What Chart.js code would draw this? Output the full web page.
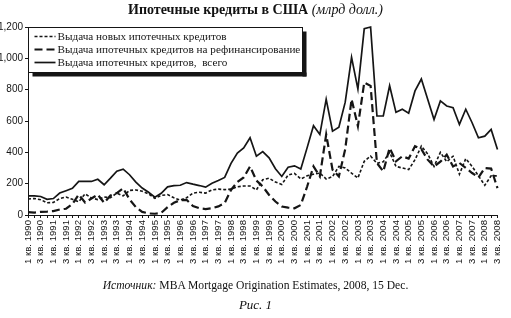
<!DOCTYPE html>
<html>
<head>
<meta charset="utf-8">
<script src="https://cdn.jsdelivr.net/npm/chart.js@4"></script>
<style>
  body { margin: 0; background: #fff; }
  #wrap { position: relative; width: 511px; height: 318px; overflow: hidden; }
  #chart { position: absolute; left: 0; top: 0; }
  .txt { position: absolute; left: 0; width: 511px; text-align: center; font-family: "Liberation Serif", "DejaVu Serif", serif; color: #111; }
  #title { top: 2px; font-size: 14px; font-weight: bold; }
  #title i { font-weight: normal; }
  #source { top: 279px; left: 0px; font-size: 11.6px; }
  #caption { top: 297px; font-size: 13px; font-style: italic; }
</style>
</head>
<body>
<div id="wrap">
  <canvas id="chart" width="511" height="318"></canvas>
  <div class="txt" id="title">Ипотечные кредиты в США <i>(млрд долл.)</i></div>
  <div class="txt" id="source"><i>Источник:</i> MBA Mortgage Origination Estimates, 2008, 15 Dec.</div>
  <div class="txt" id="caption">Рис. 1</div>
</div>
<script>
// quarters 1990 Q1 .. 2008 Q3
const years = [1990, 1991, 1992, 1993, 1994, 1995, 1996, 1997, 1998, 1999,
  2000, 2001, 2002, 2003, 2004, 2005, 2006, 2007, 2008];
const quarterNames = ['1 кв.', '2 кв.', '3 кв.', '4 кв.'];
const shownQuarters = ['1 кв.', '3 кв.'];

const labels = [];
years.forEach(y => quarterNames.forEach(q => labels.push(q + ' ' + y)));
labels.length = 75; // last quarter in data: 3 кв. 2008

// billions of dollars
const newLoans = [102,105,98,78,80,105,115,100,85,135,109,98,115,110,140,122,
  157,160,152,135,106,125,130,110,95,110,140,145,140,160,165,162,
  165,180,185,185,160,225,235,210,195,255,265,230,250,260,268,230,
  245,310,300,267,236,343,376,330,340,400,310,300,290,353,440,390,
  310,400,340,375,260,360,310,250,190,250,250];

const refiLoans = [18,15,20,22,25,35,40,70,130,80,105,130,78,125,140,171,
  100,50,20,10,8,14,50,78,95,97,57,43,38,43,55,76,
  160,210,240,310,220,182,128,86,54,47,43,64,182,310,246,514,
  289,246,420,739,567,846,824,332,278,428,343,375,360,439,420,353,
  310,340,385,310,332,300,268,240,300,296,171];

const totalLoans = [122,122,118,100,105,140,155,170,215,215,214,228,193,235,280,293,
  257,210,172,145,114,139,180,188,190,207,197,188,178,203,220,240,
  330,396,428,493,375,405,365,295,246,305,314,293,430,570,514,739,
  535,560,720,1006,803,1189,1200,632,632,825,655,675,650,792,868,739,
  610,728,696,685,578,675,589,493,503,546,418];

const yTicks = [0, 200, 400, 600, 800, 1000, 1200];

const ink = '#151515';

// framed legend with a drop shadow, drawn inside the plot
const boxLegend = {
  id: 'boxLegend',
  afterDraw(chart) {
    const ctx = chart.ctx;
    const x = 28.5, y = 27.5, w = 274, h = 45;
    ctx.save();
    ctx.fillStyle = ink;
    ctx.fillRect(x + 4, y + h, w, 4);
    ctx.fillRect(x + w, y + 4, 4, h);
    ctx.fillStyle = '#fff';
    ctx.fillRect(x, y, w, h);
    ctx.strokeStyle = ink;
    ctx.lineWidth = 1;
    ctx.strokeRect(x, y, w, h);
    ctx.font = '11.2px "Liberation Serif", serif';
    ctx.textBaseline = 'middle';
    chart.data.datasets.forEach((ds, i) => {
      const ly = y + 9 + i * 13;
      ctx.beginPath();
      ctx.setLineDash(ds.borderDash || []);
      ctx.lineWidth = ds.borderWidth;
      ctx.strokeStyle = ink;
      ctx.moveTo(x + 6, ly);
      ctx.lineTo(x + 27, ly);
      ctx.stroke();
      ctx.setLineDash([]);
      ctx.fillStyle = ink;
      ctx.fillText(ds.label, x + 29, ly + 0.5);
    });
    ctx.restore();
  }
};

new Chart(document.getElementById('chart'), {
  type: 'line',
  data: {
    labels: labels,
    datasets: [
      { label: 'Выдача новых ипотечных кредитов', data: newLoans,
        borderColor: ink, borderWidth: 1.6, borderDash: [3, 2] },
      { label: 'Выдача ипотечных кредитов на рефинансирование', data: refiLoans,
        borderColor: ink, borderWidth: 2.2, borderDash: [8, 4] },
      { label: 'Выдача ипотечных кредитов,  всего', data: totalLoans,
        borderColor: ink, borderWidth: 1.7 }
    ]
  },
  options: {
    responsive: false,
    animation: false,
    clip: false,
    elements: { point: { radius: 0 }, line: { tension: 0 } },
    layout: { padding: { top: 27, right: 4, left: 0, bottom: 0 } },
    plugins: { legend: { display: false }, tooltip: { enabled: false } },
    scales: {
      x: {
        afterFit: s => { s.height = 103; },
        border: { color: ink, width: 1 },
        grid: { drawOnChartArea: false, color: ink, tickLength: 3 },
        ticks: {
          autoSkip: false, maxRotation: 90, minRotation: 90, padding: 2,
          color: ink, font: { family: '"Liberation Sans", Arial, sans-serif', size: 9.6 },
          callback: function (v) {
            const l = this.getLabelForValue(v);
            return shownQuarters.some(q => l.startsWith(q)) ? l : '';
          }
        }
      },
      y: {
        min: 0, max: 1200,
        afterFit: s => { s.width = 28; },
        afterBuildTicks: s => { s.ticks = yTicks.map(v => ({ value: v })); },
        border: { color: ink, width: 1 },
        grid: { drawOnChartArea: false, color: ink, tickLength: 3 },
        ticks: { color: ink, padding: 2, font: { family: '"Liberation Sans", Arial, sans-serif', size: 10 } }
      }
    }
  },
  plugins: [boxLegend]
});
</script>
</body>
</html>
